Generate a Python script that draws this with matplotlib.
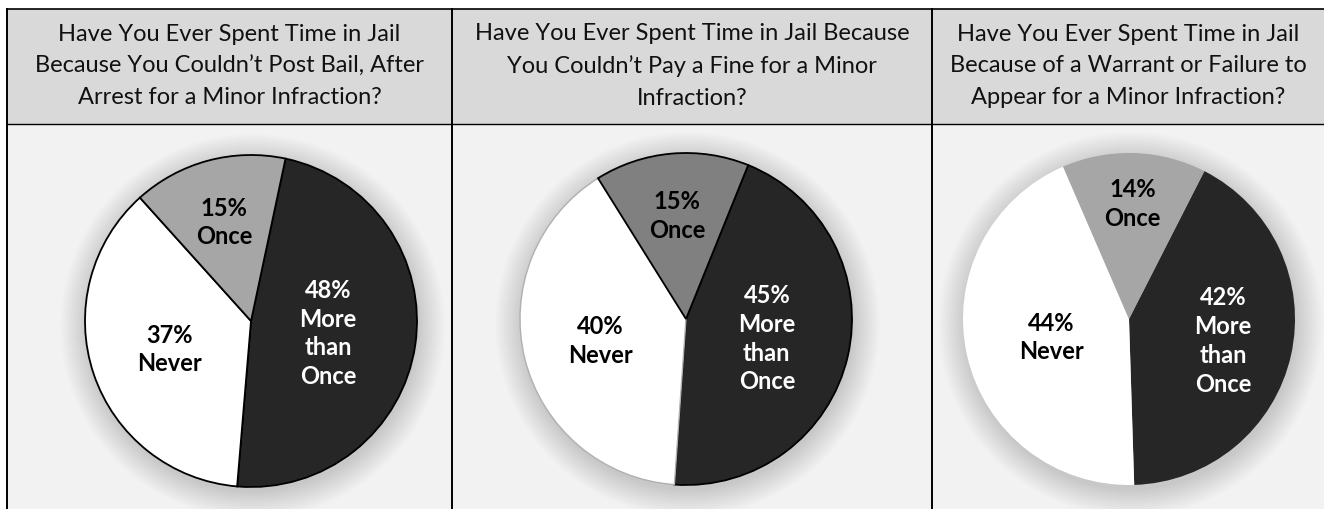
import numpy as np
import matplotlib
matplotlib.use("Agg")
import matplotlib.pyplot as plt
from matplotlib.patches import Rectangle, Circle

plt.rcParams['font.family'] = ['Lato', 'DejaVu Sans']

# data
titles = [
    "Have You Ever Spent Time in Jail\nBecause You Couldn\u2019t Post Bail, After\nArrest for a Minor Infraction?",
    "Have You Ever Spent Time in Jail Because\nYou Couldn\u2019t Pay a Fine for a Minor\nInfraction?",
    "Have You Ever Spent Time in Jail\nBecause of a Warrant or Failure to\nAppear for a Minor Infraction?",
]
categories = ["More\nthan\nOnce", "Never", "Once"]
bail = [48, 37, 15]
fine = [45, 40, 15]
warrant = [42, 44, 14]
series = [bail, fine, warrant]

# styling / layout (pixels)
W, H = 1324, 510
col_edges = [7, 452, 932, 1324]
top, head_bot = 10, 125
centers = [(251, 322), (686, 320), (1129, 320)]
R = 166
start_angles = [78, 68, 63]            # where "More than Once" starts
once_colors = ['#a6a6a6', '#808080', '#a6a6a6']
label_r = [[0.47, 0.52, 0.62], [0.50, 0.53, 0.63], [0.58, 0.48, 0.70]]

fig = plt.figure(figsize=(W / 100, H / 100), dpi=100)
bg = fig.add_axes([0, 0, 1, 1])
bg.set_xlim(0, W)
bg.set_ylim(H, 0)
bg.axis('off')

# table cells
bg.add_patch(Rectangle((col_edges[0], top), W - col_edges[0], head_bot - top,
                       facecolor='#d9d9d9', edgecolor='none'))
bg.add_patch(Rectangle((col_edges[0], head_bot), W - col_edges[0], H - head_bot,
                       facecolor='#f2f2f2', edgecolor='none'))
bg.plot([col_edges[0], W], [top, top], color='black', lw=1.2)
bg.plot([col_edges[0], W], [head_bot, head_bot], color='black', lw=1.0)
for x in col_edges[:3]:
    bg.plot([x, x], [top, H], color='black', lw=1.4)

for i, t in enumerate(titles):
    xm = (col_edges[i] + col_edges[i + 1]) / 2
    bg.text(xm, 66, t, ha='center', va='center', fontsize=17,
            linespacing=1.62, color='#111111')

for i, vals in enumerate(series):
    cx, cy = centers[i]
    pad = 1.3
    ax = fig.add_axes([(cx - R * pad) / W, (H - cy - R * pad) / H,
                       2 * R * pad / W, 2 * R * pad / H])
    ax.axis('off')

    # soft shadow halo
    for k in range(14):
        ax.add_patch(Circle((0.01, -0.03), 1.0 + k * 0.012, facecolor='black',
                            alpha=0.012, edgecolor='none', zorder=0))

    colors = ['#262626', 'white', once_colors[i]]
    wedges, _ = ax.pie(vals, colors=colors, startangle=start_angles[i],
                       counterclock=False, radius=1.0, frame=False)
    ax.set_xlim(-pad, pad)
    ax.set_ylim(-pad, pad)
    ax.set_aspect('equal')

    if i == 0:
        for w in wedges:
            w.set_edgecolor('black')
            w.set_linewidth(1.3)
    elif i == 1:
        wedges[0].set_edgecolor('black')
        wedges[0].set_linewidth(1.3)
        wedges[2].set_edgecolor('black')
        wedges[2].set_linewidth(1.3)
        wedges[1].set_edgecolor('#b0b0b0')
        wedges[1].set_linewidth(1.0)
    else:
        for w in wedges:
            w.set_edgecolor('none')

    for j, w in enumerate(wedges):
        ang = np.deg2rad((w.theta1 + w.theta2) / 2)
        r = label_r[i][j]
        txt = f"{vals[j]}%\n{categories[j]}"
        ax.text(r * np.cos(ang), r * np.sin(ang), txt, ha='center', va='center',
                fontsize=17, fontweight='bold', linespacing=1.3,
                color='white' if j == 0 else 'black')

fig.savefig('out.png', dpi=100)
